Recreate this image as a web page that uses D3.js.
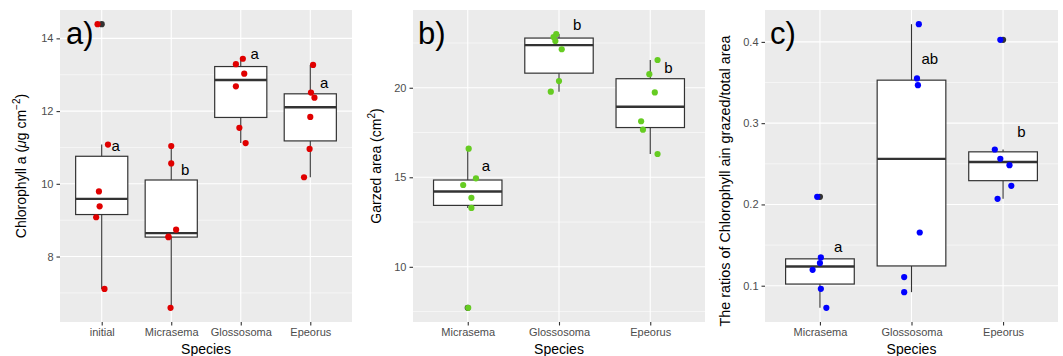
<!DOCTYPE html>
<html><head><meta charset="utf-8">
<script src="https://cdn.jsdelivr.net/npm/d3@7"></script>
<style>
html,body{margin:0;padding:0;background:#fff;}
svg{display:block;font-family:"Liberation Sans",Arial,Helvetica,sans-serif;}
</style></head>
<body>
<svg id="chart" width="1063" height="356"></svg>
<script>
// ---------------- DATA ----------------
const speciesA = ["initial", "Micrasema", "Glossosoma", "Epeorus"];
const speciesBC = ["Micrasema", "Glossosoma", "Epeorus"];

// a) Chlorophyll a (µg cm-2)
const chlValues = [
  [14.39, 11.08, 9.79, 9.38, 9.08, 7.11],
  [11.04, 10.56, 8.74, 8.53, 8.55, 6.59],
  [13.44, 13.29, 13.03, 12.68, 11.54, 11.12],
  [13.27, 12.51, 12.37, 11.84, 10.96, 10.18]
];
const chlJitter = [
  [-0.06, 0.09, -0.04, -0.03, -0.08, 0.04],
  [0.0, 0.0, 0.07, -0.04, -0.04, -0.01],
  [0.03, -0.07, 0.05, -0.07, -0.02, 0.07],
  [0.04, 0.01, 0.06, 0.0, -0.01, -0.09]
];
const chlLetters = ["a", "b", "a", "a"];
const chlLetterY = [11.06, 10.38, 13.59, 12.78];
const chlTicks = [8, 10, 12, 14];

// b) Grazed area (cm2)
const areaValues = [
  [16.6, 14.94, 14.57, 13.85, 13.29, 7.71],
  [23.0, 22.83, 22.61, 22.15, 20.37, 19.78],
  [21.55, 20.76, 19.74, 18.13, 17.66, 16.3]
];
const areaJitter = [
  [0.01, 0.09, -0.05, 0.04, 0.04, 0.005],
  [-0.03, -0.06, -0.04, 0.03, 0.0, -0.09],
  [0.08, -0.01, 0.05, -0.1, -0.08, 0.08]
];
const areaLetters = ["a", "b", "b"];
const areaLetterY = [15.66, 23.55, 21.15];
const areaTicks = [10, 15, 20];

// c) Ratio of chlorophyll a in grazed / total area
const ratioValues = [
  [0.2094, 0.1348, 0.1278, 0.1196, 0.0962, 0.0728],
  [0.4218, 0.355, 0.3467, 0.1655, 0.1106, 0.0921],
  [0.4025, 0.2676, 0.2561, 0.2483, 0.2229, 0.2069]
];
const ratioJitter = [
  [-0.03, 0.01, 0.0, -0.08, 0.01, 0.07],
  [0.08, 0.06, 0.07, 0.09, -0.08, -0.08],
  [-0.03, -0.09, -0.03, 0.07, 0.09, -0.06]
];
const ratioLetters = ["a", "ab", "b"];
const ratioLetterY = [0.1487, 0.3791, 0.2893];
const ratioTicks = [0.1, 0.2, 0.3, 0.4];

// ---------------- DRAWING ----------------
const svg = d3.select("#chart");
const TOP = 10, BOTTOM = 322;

function boxStats(vals) {
  const s = vals.slice().sort(d3.ascending);
  const q1 = d3.quantile(s, 0.25), med = d3.quantile(s, 0.5), q3 = d3.quantile(s, 0.75);
  const iqr = q3 - q1;
  const lo = q1 - 1.5 * iqr, hi = q3 + 1.5 * iqr;
  const inside = s.filter(v => v >= lo && v <= hi);
  return { q1, med, q3, wLo: d3.min(inside), wHi: d3.max(inside), out: s.filter(v => v < lo || v > hi) };
}

function panel(opt) {
  const { left, right, cats, values, jitter, letters, letterY, ticks, color, tickFmt, tag, tagX, yTitle, titleX, titleY, titleSize } = opt;
  const g = svg.append("g");
  const x = d3.scalePoint().domain(cats).range([left, right]).padding(0.6);
  const step = x.step();
  const all = values.flat().concat(letterY);
  const [mn, mx] = d3.extent(all);
  const pad = (mx - mn) * 0.05;
  const y = d3.scaleLinear().domain([mn - pad, mx + pad]).range([BOTTOM, TOP]);

  // background
  g.append("rect").attr("x", left).attr("y", TOP).attr("width", right - left).attr("height", BOTTOM - TOP).attr("fill", "#EBEBEB");
  // minor grid
  const tstep = ticks[1] - ticks[0];
  const minor = [];
  for (let i = -1; i < ticks.length; i++) {
    const v = ticks[0] + (i + 0.5) * tstep;
    if (v > y.domain()[0] && v < y.domain()[1]) minor.push(v);
  }
  g.selectAll(".mn").data(minor).join("line")
    .attr("x1", left).attr("x2", right).attr("y1", d => y(d)).attr("y2", d => y(d))
    .attr("stroke", "#fff").attr("stroke-width", 0.55);
  g.selectAll(".mj").data(ticks).join("line")
    .attr("x1", left).attr("x2", right).attr("y1", d => y(d)).attr("y2", d => y(d))
    .attr("stroke", "#fff").attr("stroke-width", 1.1);
  g.selectAll(".vg").data(cats).join("line")
    .attr("x1", d => x(d)).attr("x2", d => x(d)).attr("y1", TOP).attr("y2", BOTTOM)
    .attr("stroke", "#fff").attr("stroke-width", 1.1);

  // axes
  const ya = g.append("g").attr("transform", `translate(${left},0)`)
    .call(d3.axisLeft(y).tickValues(ticks).tickSize(3.5).tickPadding(3).tickFormat(tickFmt));
  ya.select(".domain").remove();
  ya.selectAll(".tick line").attr("stroke", "#333").attr("stroke-width", 1.1);
  ya.selectAll(".tick text").attr("fill", "#4D4D4D").attr("font-size", 11).attr("font-family", "Liberation Sans, Arial, sans-serif");
  const xa = g.append("g").attr("transform", `translate(0,${BOTTOM})`)
    .call(d3.axisBottom(x).tickSize(3.5).tickPadding(3));
  xa.select(".domain").remove();
  xa.selectAll(".tick line").attr("stroke", "#333").attr("stroke-width", 1.1);
  xa.selectAll(".tick text").attr("fill", "#4D4D4D").attr("font-size", 11).attr("font-family", "Liberation Sans, Arial, sans-serif");

  const bw = step * 0.75;
  const stats = values.map(boxStats);
  // boxes
  stats.forEach((s, i) => {
    const cx = x(cats[i]);
    g.append("line").attr("x1", cx).attr("x2", cx).attr("y1", y(s.q3)).attr("y2", y(s.wHi)).attr("stroke", "#333").attr("stroke-width", 1.1);
    g.append("line").attr("x1", cx).attr("x2", cx).attr("y1", y(s.q1)).attr("y2", y(s.wLo)).attr("stroke", "#333").attr("stroke-width", 1.1);
    g.append("rect").attr("x", cx - bw / 2).attr("width", bw).attr("y", y(s.q3)).attr("height", y(s.q1) - y(s.q3))
      .attr("fill", "#fff").attr("stroke", "#333").attr("stroke-width", 1.2);
    g.append("line").attr("x1", cx - bw / 2).attr("x2", cx + bw / 2).attr("y1", y(s.med)).attr("y2", y(s.med))
      .attr("stroke", "#333").attr("stroke-width", 2.4);
  });
  // outliers (boxplot)
  stats.forEach((s, i) => {
    g.selectAll(null).data(s.out).join("circle")
      .attr("cx", x(cats[i])).attr("cy", d => y(d)).attr("r", 3.1).attr("fill", "#333");
  });
  // jittered points
  values.forEach((vals, i) => {
    g.selectAll(null).data(vals.map((v, j) => ({ v, j: jitter[i][j] }))).join("circle")
      .attr("cx", d => x(cats[i]) + d.j * step).attr("cy", d => y(d.v)).attr("r", 3.1).attr("fill", color);
  });
  // letters
  g.selectAll(".lt").data(letters).join("text")
    .attr("x", (d, i) => x(cats[i]) + 0.2 * step).attr("y", (d, i) => y(letterY[i]))
    .attr("dy", "0.36em").attr("text-anchor", "middle").attr("font-size", 15).attr("fill", "#000").text(d => d);
  // tag
  g.append("text").attr("x", left + tagX).attr("y", 44).attr("font-size", 31).attr("fill", "#000").text(tag);
  // x title
  g.append("text").attr("x", (left + right) / 2).attr("y", 354).attr("text-anchor", "middle")
    .attr("font-size", 14).attr("fill", "#000").text("Species");
  // y title
  const yt = g.append("text").attr("transform", `translate(${titleX},${titleY}) rotate(-90)`)
    .attr("text-anchor", "middle").attr("font-size", titleSize).attr("fill", "#000");
  yTitle(yt);
}

panel({
  left: 60, right: 352, cats: speciesA, values: chlValues, jitter: chlJitter,
  letters: chlLetters, letterY: chlLetterY, ticks: chlTicks, color: "#E00000",
  tickFmt: d3.format("d"), tag: "a)", tagX: 6, titleX: 26, titleY: 166, titleSize: 14,
  yTitle: t => {
    t.append("tspan").text("Chlorophyll a (");
    t.append("tspan").attr("font-style", "italic").text("\u03BC");
    t.append("tspan").text("g cm");
    t.append("tspan").attr("font-size", 10).attr("dy", "-0.6em").text("\u22122");
    t.append("tspan").attr("dy", "0.45em").text(")");
  }
});
panel({
  left: 413, right: 705, cats: speciesBC, values: areaValues, jitter: areaJitter,
  letters: areaLetters, letterY: areaLetterY, ticks: areaTicks, color: "#66CC22",
  tickFmt: d3.format("d"), tag: "b)", tagX: 5, titleX: 381, titleY: 166, titleSize: 14,
  yTitle: t => {
    t.append("tspan").text("Garzed area (cm");
    t.append("tspan").attr("font-size", 10).attr("dy", "-0.6em").text("2");
    t.append("tspan").attr("dy", "0.45em").text(")");
  }
});
panel({
  left: 765, right: 1058, cats: speciesBC, values: ratioValues, jitter: ratioJitter,
  letters: ratioLetters, letterY: ratioLetterY, ticks: ratioTicks, color: "#0000FF",
  tickFmt: d3.format(".1f"), tag: "c)", tagX: 5, titleX: 730, titleY: 181, titleSize: 14.4,
  yTitle: t => { t.text("The ratios of Chlorophyll ain grazed/total area"); }
});
</script>
</body></html>
